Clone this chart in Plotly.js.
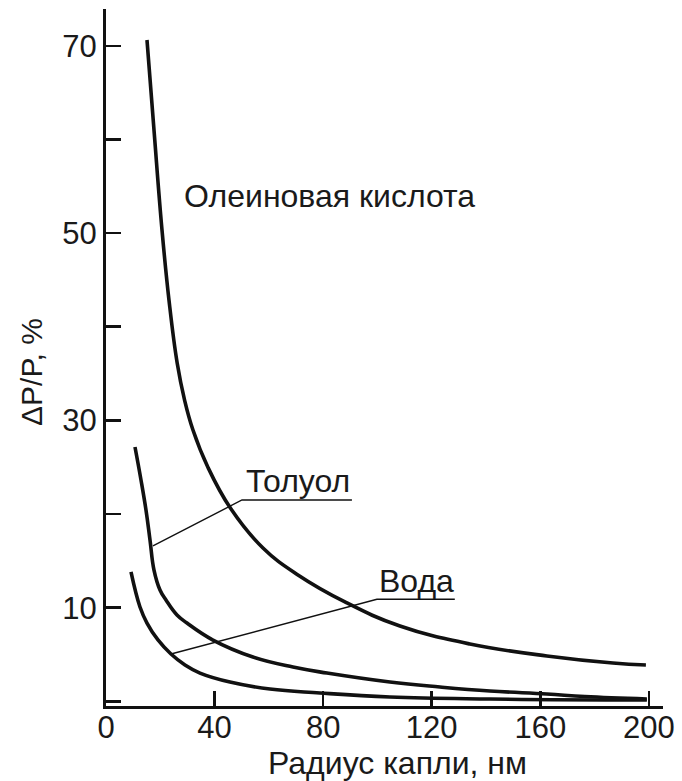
<!DOCTYPE html>
<html>
<head>
<meta charset="utf-8">
<script src="https://cdn.plot.ly/plotly-3.0.1.min.js"></script>
<style>html,body{margin:0;padding:0;background:#fff;}#chart{width:682px;height:781px;}</style>
</head>
<body>
<div id="chart"></div>
<script>
// Oleic acid curve
const oleicX = [15.10, 17.68, 20.63, 23.20, 26.22, 28.95, 32.04, 37.50, 45.82, 57.83, 70.72, 88.03, 108.29, 134.07, 162.43, 186.74, 198.90];
const oleicY = [70.62, 61.01, 50.33, 42.86, 36.13, 32.17, 28.97, 25.02, 20.64, 16.37, 13.49, 10.61, 8.04, 6.12, 4.84, 4.09, 3.88];
// Toluene curve
const tolX = [10.68, 12.89, 14.73, 16.21, 17.68, 19.89, 22.10, 26.15, 29.83, 39.41, 54.14, 68.88, 81.40, 104.60, 123.02, 141.44, 162.43, 176.43, 199.26];
const tolY = [27.16, 23.64, 20.43, 17.23, 14.02, 11.89, 10.82, 9.22, 8.36, 6.54, 4.73, 3.66, 3.02, 2.06, 1.53, 1.10, 0.78, 0.51, 0.25];
// Water curve
const watX = [9.21, 12.52, 15.10, 19.15, 23.94, 29.10, 34.62, 45.67, 60.41, 78.82, 104.60, 141.44, 199.26];
const watY = [13.81, 10.07, 8.36, 6.55, 5.05, 3.88, 3.02, 2.06, 1.31, 0.89, 0.46, 0.25, 0.14];
// Leader lines
const tolLeadX = [17.3, 50.1, 90.6];
const tolLeadY = [16.6, 21.5, 21.5];
const watLeadX = [23.94, 99.8, 128.5];
const watLeadY = [5.05, 10.9, 10.9];
// Ticks
const xTickVals = [0, 40, 80, 120, 160, 200];
const xTickText = ['0', '40', '80', '120', '160', '200'];
const yTickVals = [0, 10, 20, 30, 40, 50, 60, 70];
const yTickText = ['', '10', '', '30', '', '50', '', '70'];
// Labels
const labelOleic = 'Олеиновая кислота';
const labelTol = 'Толуол';
const labelWat = 'Вода';
const xTitle = 'Радиус капли, нм';
const yTitle = 'ΔP/P, %';

const ink = '#111111';
const curve = (x, y) => ({x, y, type: 'scatter', mode: 'lines', line: {color: ink, width: 3.6, shape: 'spline', smoothing: 1.2}, hoverinfo: 'skip'});
const lead = (x, y) => ({x, y, type: 'scatter', mode: 'lines', line: {color: ink, width: 1.4}, hoverinfo: 'skip'});

const data = [curve(oleicX, oleicY), curve(tolX, tolY), curve(watX, watY), lead(tolLeadX, tolLeadY), lead(watLeadX, watLeadY)];

const fam = 'Liberation Sans, Arial, sans-serif';
const txt = '#1a1a1a';
const fnt = {family: fam, size: 32, color: txt};

const layout = {
  width: 682, height: 781,
  margin: {l: 106, r: 19, t: 9, b: 75},
  paper_bgcolor: '#fff', plot_bgcolor: '#fff',
  showlegend: false,
  font: {family: fam, size: 30, color: txt},
  xaxis: {
    range: [0, 205.2], showgrid: false, zeroline: false,
    showline: true, linecolor: ink, linewidth: 3,
    ticks: 'inside', ticklen: 15, tickwidth: 2.5, tickcolor: ink,
    tickvals: xTickVals, ticktext: xTickText, ticklabelstandoff: -8,
    tickfont: {family: fam, size: 31, color: txt}
  },
  yaxis: {
    range: [-0.5, 73.93], showgrid: false, zeroline: false,
    showline: true, linecolor: ink, linewidth: 3,
    ticks: 'inside', ticklen: 15, tickwidth: 2.5, tickcolor: ink,
    tickvals: yTickVals, ticktext: yTickText,
    tickfont: {family: fam, size: 31, color: txt}
  },
  annotations: [
    {x: 28.0, y: 54.0, xref: 'x', yref: 'y', text: labelOleic, showarrow: false, xanchor: 'left', yanchor: 'middle', font: fnt},
    {x: 51.0, y: 23.5, xref: 'x', yref: 'y', text: labelTol, showarrow: false, xanchor: 'left', yanchor: 'middle', font: fnt},
    {x: 99.8, y: 12.85, xref: 'x', yref: 'y', text: labelWat, showarrow: false, xanchor: 'left', yanchor: 'middle', font: fnt},
    {text: xTitle, xref: 'paper', yref: 'paper', showarrow: false, xanchor: 'center', yanchor: 'middle', font: {family: fam, size: 32, color: txt}},
    {text: yTitle, xref: 'paper', yref: 'paper', showarrow: false, xanchor: 'center', yanchor: 'middle', textangle: -90, font: {family: fam, size: 30, color: txt}}
  ]
};
// pixel positions of axis titles converted to paper coordinates
const pw = 682 - 106 - 19, ph = 781 - 9 - 75;
layout.annotations[3].x = (397 - 106) / pw; layout.annotations[3].y = (781 - 75 - 763) / ph;
layout.annotations[4].x = (32 - 106) / pw; layout.annotations[4].y = (781 - 75 - 372) / ph;

Plotly.newPlot('chart', data, layout, {displayModeBar: false, staticPlot: true});
</script>
</body>
</html>
